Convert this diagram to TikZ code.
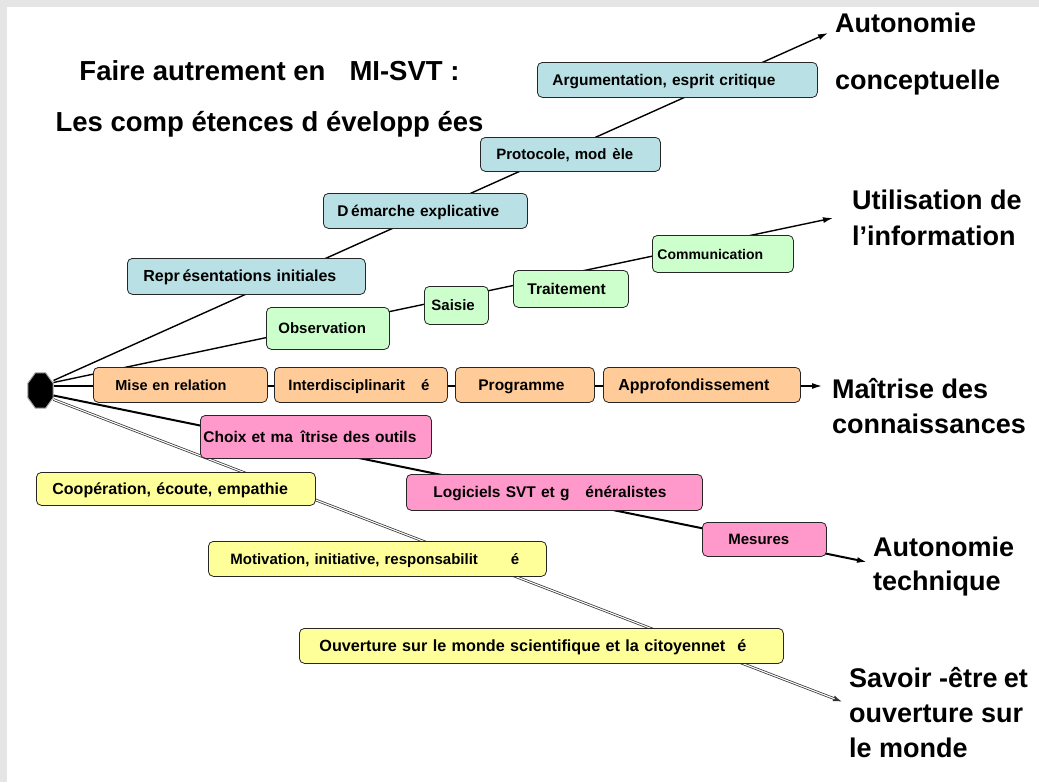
\documentclass[tikz,border=0pt]{standalone}
\usepackage{fontspec}
\setmainfont{Liberation Sans}
\usetikzlibrary{shapes.geometric,arrows.meta}
\definecolor{bleuBox}{HTML}{B9E0E4}
\definecolor{vertBox}{HTML}{CCFFCC}
\definecolor{orangeBox}{HTML}{FFCC99}
\definecolor{roseBox}{HTML}{FF99CC}
\definecolor{jauneBox}{HTML}{FFFF99}
\newcommand\fontBoite[1]{\bfseries\fontsize{#1}{18}\selectfont}
\newcommand\fontTitre{\bfseries\fontsize{27.5}{51}\selectfont}
\newcommand\fontEtiq[1]{\bfseries\fontsize{27}{#1}\selectfont}

\begin{document}
\begin{tikzpicture}[x=1pt,y=-1pt,>={Latex[length=10pt,width=6pt]},
    boite/.style={draw=black!85,line width=0.8pt,rounded corners=5pt,anchor=north west,
        inner ysep=0pt,text height=11pt,text depth=0pt,align=left},
    fil/.style={->,line width=1.4pt},
    fildouble/.style={->,draw=black!80,line width=2.6pt,
        postaction={draw=white,line width=1.1pt,shorten >=9pt,-}},
    octo/.style={regular polygon,regular polygon sides=8,minimum size=38pt,xscale=0.72,
        transform shape,fill=black,draw=black!35,line width=1pt,inner sep=0pt},
    etiq/.style={anchor=north west,inner sep=0pt,align=left}]
\useasboundingbox (0,0) rectangle (1039,782);
\fill[black!10] (0,0) rectangle (1039,782);
\fill[white] (7,7) rectangle (1039,782);

\node[octo] (hub) at (40.5,390.5) {};
\coordinate (tipConcept) at (828,33);
\coordinate (tipInfo) at (833,218);
\coordinate (tipConn) at (822,386);
\coordinate (tipTech) at (867,562);
\coordinate (tipSavoir) at (843,702);

\draw[fil] ([yshift=10pt]hub.east)--(tipConcept);
\draw[fil] ([yshift=8pt]hub.east)--(tipInfo);
\draw[fil] ([yshift=4.5pt]hub.east)--(tipConn);
\draw[fil,line width=2pt] ([yshift=-5pt]hub.east)--(tipTech);
\draw[fildouble] ([yshift=-9pt]hub.east)--(tipSavoir);

\foreach \nom/\x/\y/\w/\h/\p/\fs/\texte in {
    arg/537/62/280/35/15/15.5/{Argumentation, esprit critique},
    proto/480/137/180/34/16/15/{Protocole, mod\hspace{6pt}èle},
    demarche/323/193/204/35/14/15.5/{D\,émarche explicative},
    repr/127/258/238/36/16/16/{Repr\,ésentations initiales}}
{
    \pgfmathsetmacro\tw{\w-2*\p}
    \node[boite,fill=bleuBox,font=\fontBoite{\fs},inner xsep=\p pt,text width=\tw pt,minimum height=\h pt] (\nom) at (\x,\y) {\texte};
}
\foreach \nom/\x/\y/\w/\h/\p/\fs/\texte in {
    obs/266/307/123/42/12/15/Observation,
    saisie/424/286/64/38/7/15/Saisie,
    trait/513/270/115/37/14/15.5/Traitement,
    comm/652/235/141/37/5/14/Communication}
{
    \pgfmathsetmacro\tw{\w-2*\p}
    \node[boite,fill=vertBox,font=\fontBoite{\fs},inner xsep=\p pt,text width=\tw pt,minimum height=\h pt] (\nom) at (\x,\y) {\texte};
}
\foreach \nom/\x/\y/\w/\h/\p/\fs/\texte in {
    mise/93/367/174/35/22/14.5/{Mise en relation},
    interd/274/367/173/35/14/15/{Interdisciplinarit\hspace{16pt}é},
    prog/455/367/139/35/23/15.5/Programme,
    appro/603/367/197/35/15/16/Approfondissement}
{
    \pgfmathsetmacro\tw{\w-2*\p}
    \node[boite,fill=orangeBox,font=\fontBoite{\fs},inner xsep=\p pt,text width=\tw pt,minimum height=\h pt] (\nom) at (\x,\y) {\texte};
}
\foreach \nom/\x/\y/\w/\h/\p/\fs/\texte in {
    choix/200/415/231/43/3/15.5/{Choix et ma\hspace{8pt}îtrise des outils},
    logi/406/474/296/36/27/15.5/{Logiciels SVT et g\hspace{16pt}énéralistes},
    mes/702/522/124/34/26/15/Mesures}
{
    \pgfmathsetmacro\tw{\w-2*\p}
    \node[boite,fill=roseBox,font=\fontBoite{\fs},inner xsep=\p pt,text width=\tw pt,minimum height=\h pt] (\nom) at (\x,\y) {\texte};
}
\foreach \nom/\x/\y/\w/\h/\p/\fs/\texte in {
    coop/36/472/279/33/16/16/{Coopération, écoute, empathie},
    motiv/208/541/338/35/22/15/{Motivation, initiative, responsabilit\hspace{33pt}é},
    ouv/299/628/484/35/20/16.2/{Ouverture sur le monde scientifique et la citoyennet\hspace{12pt}é}}
{
    \pgfmathsetmacro\tw{\w-2*\p}
    \node[boite,fill=jauneBox,font=\fontBoite{\fs},inner xsep=\p pt,text width=\tw pt,minimum height=\h pt] (\nom) at (\x,\y) {\texte};
}

\node[etiq,font=\fontEtiq{57}] (lConcept) at (835,12.3) {Autonomie\\conceptuelle};
\node[etiq,font=\fontEtiq{36}] (lInfo) at (852,190) {Utilisation de\\l’information};
\node[etiq,font=\fontEtiq{35}] (lConn) at (832,378.5) {Maîtrise des\\connaissances};
\node[etiq,font=\fontEtiq{34}] (lTech) at (873,536.5) {Autonomie\\technique};
\node[etiq,font=\fontEtiq{35}] (lSavoir) at (849,667.5) {Savoir -être\hspace{6pt}et\\ouverture sur\\le monde};

\node[align=center,anchor=north,inner sep=0pt,font=\fontTitre] (titre) at (269.5,60)
    {Faire autrement en\hspace{24pt}MI-SVT :\\Les comp étences d évelopp ées};
\end{tikzpicture}
\end{document}
